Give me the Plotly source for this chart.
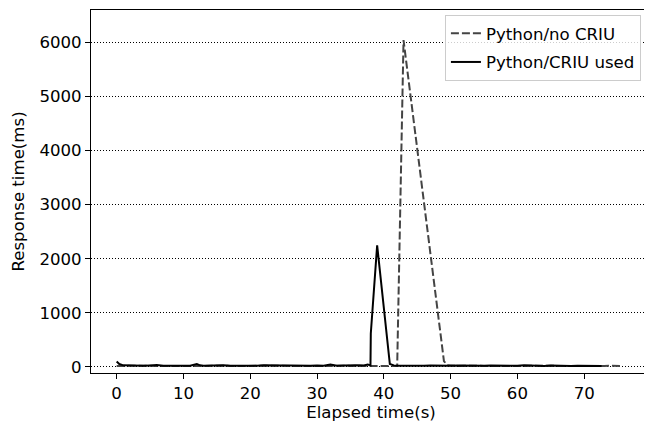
import plotly.graph_objects as go

# Python/CRIU used (solid)
criu_t = [0, 0.4, 1, 2, 3, 4, 5, 6, 7, 8, 9, 10, 11, 12, 12.5, 13, 14, 15, 16, 17, 18, 19, 20,
          21, 22, 23, 24, 25, 26, 27, 28, 29, 30, 31, 32, 32.5, 33, 34, 35, 36, 37, 37.6, 38.0,
          38.05, 39, 40.9, 41.5, 42, 43, 44, 45, 46, 47, 48, 49, 50, 51, 52, 53, 54, 55, 56,
          57, 58, 59, 60, 61, 62, 63, 64, 65, 66, 67, 68, 69, 70, 71, 72, 72.6]
criu_ms = [100, 55, 30, 25, 30, 22, 28, 35, 24, 27, 22, 30, 25, 55, 30, 24, 28, 22, 30, 25, 22, 30, 26,
           24, 30, 25, 22, 28, 26, 22, 30, 24, 26, 22, 45, 28, 24, 28, 22, 30, 26, 45, 30,
           620, 2250, 55, 30, 22, 25, 20, 28, 22, 26, 20, 25, 22, 28, 24, 20, 26, 22, 28,
           24, 20, 26, 22, 30, 22, 25, 20, 28, 22, 26, 20, 24, 22, 20, 22, 20]

# Python/no CRIU (dashed)
nocriu_t = [0, 1, 2, 3, 4, 5, 6, 7, 8, 9, 10, 11, 12, 13, 14, 15, 16, 17, 18, 19, 20,
            21, 22, 23, 24, 25, 26, 27, 28, 29, 30, 31, 32, 33, 34, 35, 36, 37, 38, 39, 40, 41,
            42.0, 42.95, 49.0, 49.5, 50, 51, 52, 53, 54, 55, 56, 57, 58, 59, 60, 61, 62, 63, 64,
            65, 66, 67, 68, 69, 70, 71, 72, 73, 74, 75, 75.8]
nocriu_ms = [20, 22, 18, 24, 20, 22, 18, 20, 24, 18, 20, 22, 20, 18, 22, 20, 24, 18, 20, 22, 18,
             20, 22, 18, 20, 24, 20, 18, 22, 20, 18, 22, 20, 24, 18, 20, 22, 18, 20, 22, 18, 20,
             20, 6040, 110, 30, 22, 20, 24, 18, 22, 20, 18, 22, 20, 24, 18, 20, 22, 18, 20,
             22, 20, 18, 22, 20, 18, 22, 20, 18, 22, 20, 18]

x_ticks = [0, 10, 20, 30, 40, 50, 60, 70]
y_ticks = [0, 1000, 2000, 3000, 4000, 5000, 6000]

FONT = "DejaVu Sans"
FS = 16.6

fig = go.Figure()
fig.add_trace(go.Scatter(x=nocriu_t, y=nocriu_ms, mode="lines", name="Python/no CRIU",
                         legendgroup="a",
                         line=dict(color="#444444", width=2, dash="8px,3px")))
fig.add_trace(go.Scatter(x=criu_t, y=criu_ms, mode="lines", name="Python/CRIU used",
                         legendgroup="b",
                         line=dict(color="black", width=2)))

# page body has an 8px margin; size/margins compensate so the plot area lands at x 91-651, y 10-373
fig.update_layout(
    width=644, height=415,
    margin=dict(l=83, r=1, t=2, b=50),
    paper_bgcolor="white", plot_bgcolor="white",
    font=dict(family=FONT, size=FS, color="black"),
    showlegend=True,
    legend=dict(x=0.982, y=0.986, xanchor="right", yanchor="top",
                bgcolor="rgba(255,255,255,0.8)", bordercolor="#cccccc", borderwidth=1,
                font=dict(family=FONT, size=FS), tracegroupgap=4, itemwidth=30),
)
fig.update_xaxes(
    range=[-3.84, 80.0], tickvals=x_ticks, ticktext=[str(v) for v in x_ticks],
    ticks="outside", ticklen=5, tickwidth=1, tickcolor="black",
    showline=True, linecolor="black", linewidth=1, mirror=True,
    showgrid=False, zeroline=False,
    title=dict(text="Elapsed time(s)", font=dict(family=FONT, size=FS), standoff=4),
)
fig.update_yaxes(
    range=[-111, 6597], tickvals=y_ticks, ticktext=[str(v) for v in y_ticks],
    ticks="outside", ticklen=5, tickwidth=1, tickcolor="black",
    showline=True, linecolor="black", linewidth=1, mirror=True,
    showgrid=True, gridcolor="black", gridwidth=1, griddash="1px,2px", zeroline=False,
    title=dict(text="Response time(ms)", font=dict(family=FONT, size=FS), standoff=10),
)

fig.write_html("out.html")
